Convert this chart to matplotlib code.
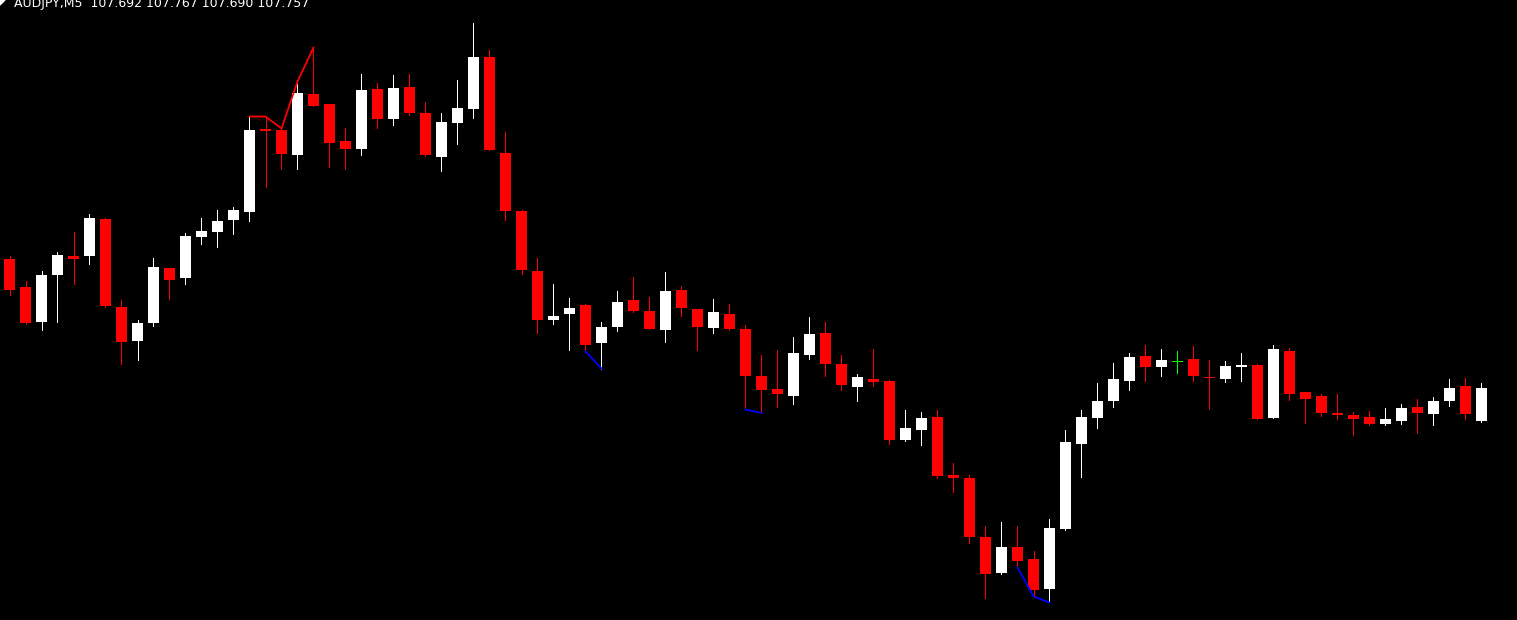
import numpy as np
import matplotlib
matplotlib.use("Agg")
import matplotlib.pyplot as plt
from matplotlib.patches import Polygon

# AUDJPY M5 bars
opens = [108.015, 107.959, 107.889, 107.983, 108.021, 108.021, 108.095, 107.919, 107.851, 107.887,
         107.997, 107.977, 108.059, 108.069, 108.093, 108.109, 108.275, 108.273, 108.223, 108.345,
         108.325, 108.251, 108.235, 108.355, 108.295, 108.359, 108.307, 108.219, 108.287, 108.315,
         108.419, 108.227, 108.111, 107.991, 107.893, 107.905, 107.923, 107.847, 107.879, 107.933,
         107.911, 107.873, 107.953, 107.915, 107.877, 107.905, 107.875, 107.781, 107.755, 107.741,
         107.823, 107.867, 107.805, 107.759, 107.775, 107.771, 107.653, 107.673, 107.699, 107.583,
         107.577, 107.459, 107.387, 107.439, 107.415, 107.355, 107.475, 107.645, 107.697, 107.731,
         107.771, 107.821, 107.799, 107.811, 107.815, 107.779, 107.775, 107.799, 107.803, 107.697,
         107.831, 107.749, 107.741, 107.707, 107.703, 107.699, 107.685, 107.691, 107.719, 107.705,
         107.731, 107.761, 107.692]
highs = [108.021, 107.971, 107.991, 108.029, 108.069, 108.105, 108.097, 107.933, 107.893, 108.017,
         107.997, 108.067, 108.097, 108.113, 108.119, 108.299, 108.299, 108.277, 108.365, 108.439,
         108.325, 108.277, 108.385, 108.367, 108.383, 108.385, 108.329, 108.307, 108.373, 108.487,
         108.433, 108.269, 108.113, 108.017, 107.965, 107.937, 107.925, 107.889, 107.951, 107.979,
         107.939, 107.989, 107.961, 107.915, 107.935, 107.925, 107.883, 107.823, 107.833, 107.859,
         107.899, 107.889, 107.823, 107.785, 107.835, 107.773, 107.713, 107.709, 107.713, 107.607,
         107.583, 107.481, 107.489, 107.481, 107.431, 107.495, 107.673, 107.713, 107.767, 107.807,
         107.827, 107.843, 107.835, 107.831, 107.841, 107.813, 107.811, 107.827, 107.805, 107.843,
         107.837, 107.749, 107.745, 107.745, 107.709, 107.711, 107.717, 107.725, 107.735, 107.739,
         107.775, 107.777, 107.767]
lows = [107.943, 107.885, 107.873, 107.889, 107.965, 108.005, 107.919, 107.805, 107.813, 107.881,
        107.935, 107.965, 108.045, 108.039, 108.065, 108.091, 108.159, 108.195, 108.195, 108.321,
        108.199, 108.195, 108.223, 108.277, 108.283, 108.303, 108.221, 108.191, 108.245, 108.297,
        108.233, 108.093, 107.985, 107.867, 107.885, 107.833, 107.829, 107.795, 107.871, 107.909,
        107.875, 107.849, 107.901, 107.833, 107.867, 107.873, 107.715, 107.707, 107.719, 107.725,
        107.815, 107.781, 107.753, 107.731, 107.761, 107.645, 107.651, 107.643, 107.577, 107.549,
        107.447, 107.337, 107.385, 107.397, 107.339, 107.329, 107.473, 107.579, 107.677, 107.719,
        107.753, 107.771, 107.781, 107.787, 107.771, 107.715, 107.769, 107.771, 107.695, 107.697,
        107.733, 107.687, 107.701, 107.695, 107.663, 107.683, 107.683, 107.685, 107.667, 107.683,
        107.721, 107.695, 107.690]
closes = [107.953, 107.887, 107.983, 108.023, 108.015, 108.097, 107.921, 107.849, 107.887, 107.999,
          107.973, 108.061, 108.071, 108.091, 108.113, 108.273, 108.271, 108.225, 108.347, 108.321,
          108.247, 108.235, 108.353, 108.295, 108.357, 108.307, 108.223, 108.289, 108.317, 108.419,
          108.233, 108.111, 107.993, 107.893, 107.901, 107.917, 107.843, 107.879, 107.929, 107.911,
          107.875, 107.951, 107.917, 107.879, 107.909, 107.875, 107.781, 107.753, 107.745, 107.827,
          107.865, 107.805, 107.763, 107.779, 107.769, 107.653, 107.677, 107.697, 107.581, 107.577,
          107.459, 107.385, 107.439, 107.411, 107.353, 107.477, 107.649, 107.699, 107.731, 107.775,
          107.819, 107.799, 107.813, 107.811, 107.781, 107.778, 107.801, 107.803, 107.695, 107.835,
          107.745, 107.735, 107.707, 107.703, 107.695, 107.685, 107.695, 107.717, 107.707, 107.731,
          107.757, 107.705, 107.757]

# indicator lines (bar index, value)
red_idx = [15, 16, 17, 18, 19]
red_val = [108.300, 108.300, 108.276, 108.370, 108.438]
blue_idx_1 = [36, 37]
blue_val_1 = [107.830, 107.796]
blue_idx_2 = [46, 47]
blue_val_2 = [107.714, 107.707]
blue_idx_3 = [63, 64, 65]
blue_val_3 = [107.398, 107.340, 107.328]

title = "AUDJPY,M5  107.692 107.767 107.690 107.757"

o = np.array(opens)
h = np.array(highs)
l = np.array(lows)
c = np.array(closes)
x = np.arange(len(o))

colors = np.where(c > o, 'white', np.where(c < o, '#ff0000', '#00ff00')).tolist()

W, H = 1517, 620
fig = plt.figure(figsize=(W / 100, H / 100), dpi=100, facecolor='black')
ax = fig.add_axes([0, 0, 1, 1])
ax.set_facecolor('black')

# wicks
ax.vlines(x, l, h, colors=colors, linewidth=0.6, antialiased=False)
# bodies
bottom = np.minimum(o, c)
height = np.maximum(np.abs(c - o), 0.002)
ax.bar(x, height, bottom=bottom - np.where(c == o, 0.001, 0), width=0.6875,
       color=colors, linewidth=0, antialiased=False)

ax.plot(red_idx, red_val, color='#ff0000', linewidth=1.3)
for bi, bv in [(blue_idx_1, blue_val_1), (blue_idx_2, blue_val_2), (blue_idx_3, blue_val_3)]:
    ax.plot(bi, bv, color='#0000ff', linewidth=1.3)

ax.set_xlim(-9.5 / 16, (W - 9.5) / 16)
ax.set_ylim(108.533 - 0.002 * H, 108.533)
ax.axis('off')

fig.text(14 / W, 1 - 7.5 / H, title, color='white', fontsize=9, va='baseline',
         family='DejaVu Sans')
fig.patches.append(Polygon([[0, 1], [5 / W, 1], [0, 1 - 5 / H]], closed=True,
                           transform=fig.transFigure, color='white'))

fig.savefig('out.png', dpi=100, facecolor='black')
